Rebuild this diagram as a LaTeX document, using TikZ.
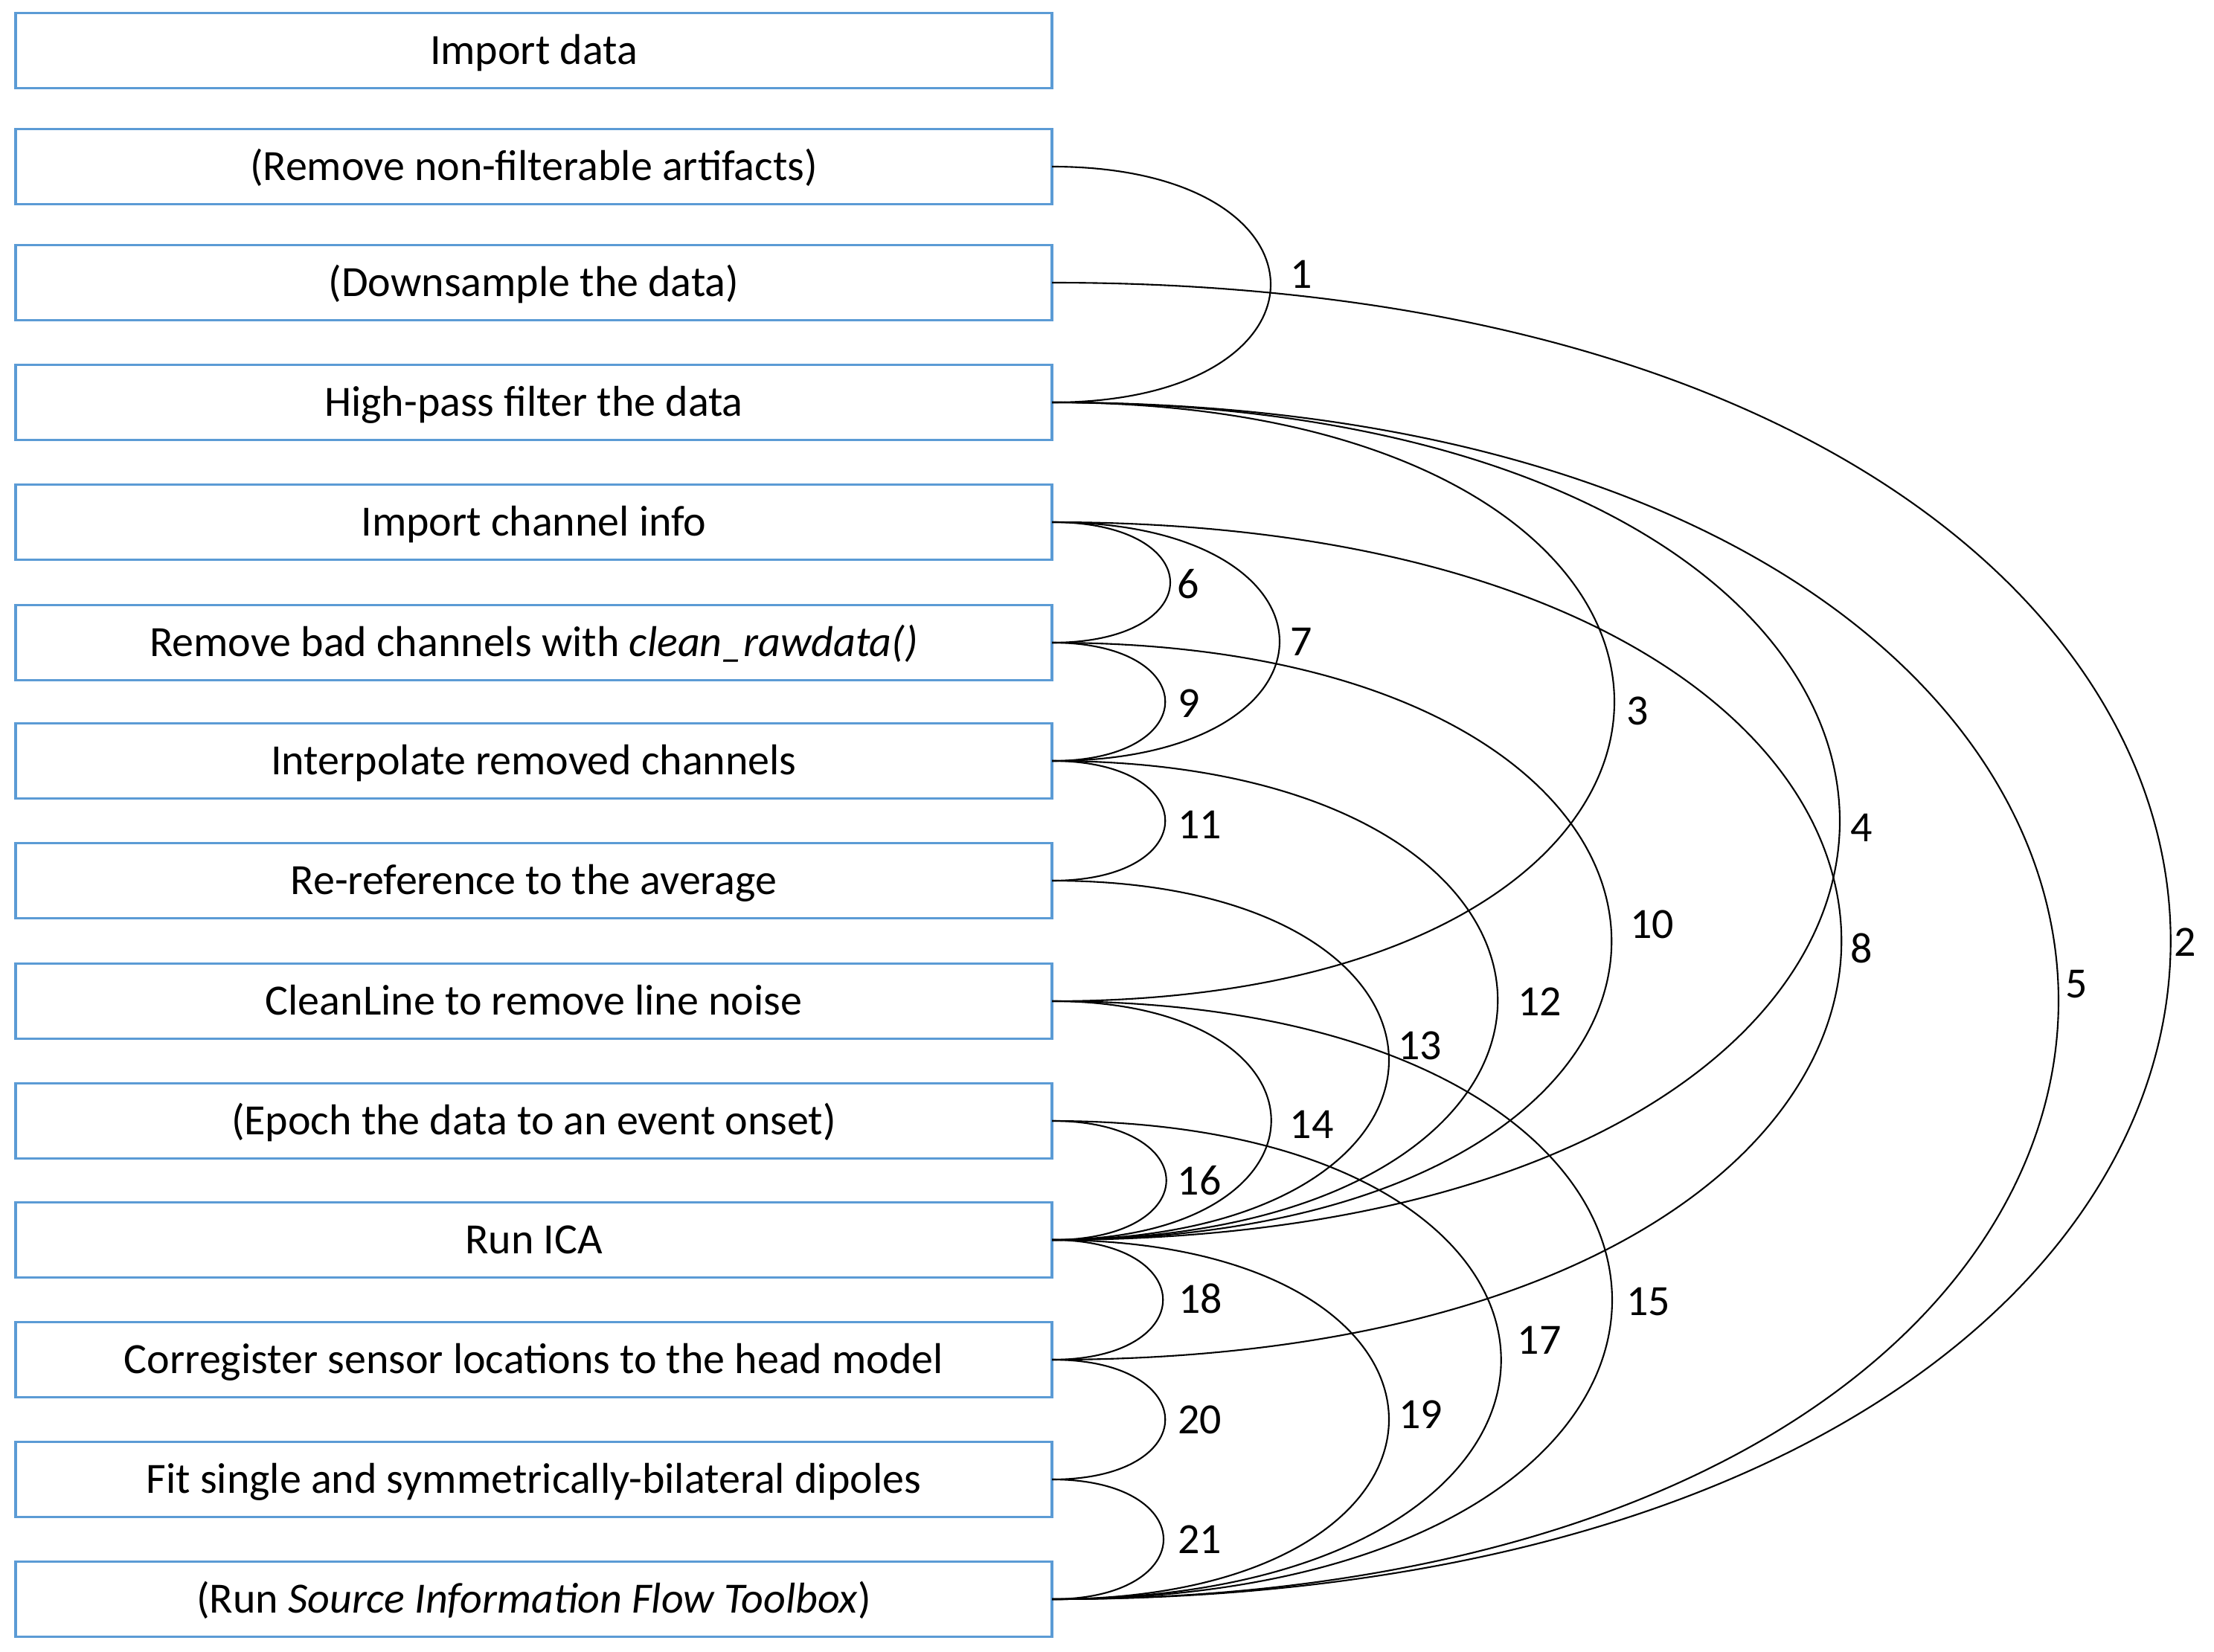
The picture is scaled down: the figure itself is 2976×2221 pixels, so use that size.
\documentclass[tikz,border=0pt]{standalone}
\usepackage{fontspec}
\setmainfont{Carlito}
\definecolor{boxblue}{HTML}{5B9BD5}
\newcommand{\fs}{\fontsize{16.5}{20}\selectfont}
\begin{document}
\begin{tikzpicture}[x=0.1mm,y=-0.1mm,
  box/.style={draw=boxblue, line width=1pt, minimum width=139.3mm, minimum height=10.1mm, inner sep=0pt, outer sep=0pt, text height=10.5pt, text depth=0pt, font=\fs},
  arcl/.style={draw=black, line width=0.6pt, out=0, in=0},
  lbl/.style={anchor=west, inner sep=0pt, font=\fs}]
\useasboundingbox (0,0) rectangle (2976,2221);
\node[box] (b1)  at (717.5,68)   {Import data};
\node[box] (b2)  at (717.5,224)  {(Remove non-filterable artifacts)};
\node[box] (b3)  at (717.5,380)  {(Downsample the data)};
\node[box] (b4)  at (717.5,541)  {High-pass filter the data};
\node[box] (b5)  at (717.5,702)  {Import channel info};
\node[box] (b6)  at (717.5,864)  {Remove bad channels with \textit{clean\_rawdata()}};
\node[box] (b7)  at (717.5,1023) {Interpolate removed channels};
\node[box] (b8)  at (717.5,1184) {Re-reference to the average};
\node[box] (b9)  at (717.5,1346) {CleanLine to remove line noise};
\node[box] (b10) at (717.5,1507) {(Epoch the data to an event onset)};
\node[box] (b11) at (717.5,1667) {Run ICA};
\node[box] (b12) at (717.5,1828) {Corregister sensor locations to the head model};
\node[box] (b13) at (717.5,1989) {Fit single and symmetrically-bilateral dipoles};
\node[box] (b14) at (717.5,2150) {(Run \textit{Source Information Flow Toolbox})};

\draw[arcl] (b2.east)  to[distance=39.2mm]  node[lbl,xshift=2.5mm,yshift=1.4mm] {1} (b4.east);
\draw[arcl] (b3.east)  to[distance=200.5mm] node[lbl,xshift=0.4mm,yshift=-0.2mm] {2} (b14.east);
\draw[arcl] (b4.east)  to[distance=100.8mm] node[lbl,xshift=1.5mm,yshift=-1.25mm] {3} (b9.east);
\draw[arcl] (b4.east)  to[distance=141.2mm] node[lbl,xshift=1.3mm,yshift=-0.85mm] {4} (b11.east);
\draw[arcl] (b4.east)  to[distance=180.4mm] node[lbl,xshift=0.8mm,yshift=2.25mm] {5} (b14.east);
\draw[arcl] (b5.east)  to[distance=21.2mm]  node[lbl,xshift=0.8mm,yshift=-0.2mm] {6} (b6.east);
\draw[arcl] (b5.east)  to[distance=40.8mm]  node[lbl,xshift=1.3mm] {7} (b7.east);
\draw[arcl] (b5.east)  to[distance=141.5mm] node[lbl,xshift=1.1mm,yshift=-1.0mm] {8} (b12.east);
\draw[arcl] (b6.east)  to[distance=20.3mm]  node[lbl,xshift=1.6mm,yshift=-0.25mm] {9} (b7.east);
\draw[arcl] (b6.east)  to[distance=100.3mm] node[lbl,xshift=2.4mm,yshift=2.3mm] {10} (b11.east);
\draw[arcl] (b7.east)  to[distance=20.3mm]  node[lbl,xshift=1.6mm,yshift=-0.55mm] {11} (b8.east);
\draw[arcl] (b7.east)  to[distance=79.9mm]  node[lbl,xshift=2.6mm,yshift=-0.15mm] {12} (b11.east);
\draw[arcl] (b8.east)  to[distance=60.4mm]  node[lbl,xshift=1.1mm,yshift=2.0mm] {13} (b11.east);
\draw[arcl] (b9.east)  to[distance=39.3mm]  node[lbl,xshift=2.4mm,yshift=-0.5mm] {14} (b11.east);
\draw[arcl] (b9.east)  to[distance=100.4mm] node[lbl,xshift=1.8mm,yshift=-0.2mm] {15} (b14.east);
\draw[arcl] (b10.east) to[distance=20.5mm]  node[lbl,xshift=1.4mm] {16} (b11.east);
\draw[arcl] (b10.east) to[distance=80.5mm]  node[lbl,xshift=2.1mm,yshift=2.65mm] {17} (b14.east);
\draw[arcl] (b11.east) to[distance=19.9mm]  node[lbl,xshift=2.0mm,yshift=0.2mm] {18} (b12.east);
\draw[arcl] (b11.east) to[distance=60.4mm]  node[lbl,xshift=1.2mm,yshift=0.7mm] {19} (b14.east);
\draw[arcl] (b12.east) to[distance=20.3mm]  node[lbl,xshift=1.6mm] {20} (b13.east);
\draw[arcl] (b13.east) to[distance=20.0mm]  node[lbl,xshift=1.8mm] {21} (b14.east);
\end{tikzpicture}
\end{document}
